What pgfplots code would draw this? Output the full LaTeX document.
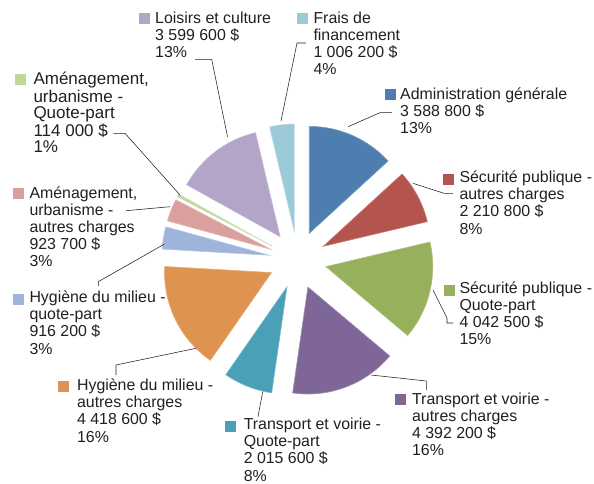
\documentclass[border=0pt]{standalone}
\usepackage{fontspec}
\setmainfont{Liberation Sans}
\usepackage{pgfplots}
\usepackage{pgfplotstable}
\pgfplotsset{compat=1.18}

\definecolor{slice0}{HTML}{4E7EB0}
\definecolor{slice1}{HTML}{B4544F}
\definecolor{slice2}{HTML}{97B05B}
\definecolor{slice3}{HTML}{7E6699}
\definecolor{slice4}{HTML}{4AA1B7}
\definecolor{slice5}{HTML}{DE9350}
\definecolor{slice6}{HTML}{9EB4DB}
\definecolor{slice7}{HTML}{D9A09E}
\definecolor{slice8}{HTML}{C0D69C}
\definecolor{slice9}{HTML}{B3A5C7}
\definecolor{slice10}{HTML}{9DCAD8}
\definecolor{textc}{HTML}{231F20}

\newcommand\lblfont{\fontsize{15.9}{17.1}\selectfont}
\newcommand\bigfont{\fontsize{17}{17}\selectfont}

% values of the slices, clockwise from 12 o'clock
\pgfplotstableread{
value
3588800
2210800
4042500
4392200
2015600
4418600
916200
923700
114000
3599600
1006200
}\piedata

\begin{document}
\begin{tikzpicture}
% total and angles
\gdef\total{0}
\foreach \i in {0,...,10}{%
  \pgfplotstablegetelem{\i}{value}\of\piedata
  \xdef\total{\fpeval{\total+\pgfplotsretval}}%
}
\gdef\cum{0}
\foreach \i in {0,...,10}{%
  \pgfplotstablegetelem{\i}{value}\of\piedata
  \edef\v{\pgfplotsretval}%
  \expandafter\xdef\csname pA\i\endcsname{\fpeval{90-360*\cum/\total}}%
  \xdef\cum{\fpeval{\cum+\v}}%
  \expandafter\xdef\csname pB\i\endcsname{\fpeval{90-360*\cum/\total}}%
  \expandafter\xdef\csname pM\i\endcsname{\fpeval{(\csname pA\i\endcsname+\csname pB\i\endcsname)/2}}%
}
\begin{axis}[
  x=1pt, y=1pt,
  xmin=0, xmax=594, ymin=-484, ymax=0,
  hide axis, clip=false,
  anchor=origin, at={(0,0)},
]
\coordinate (BL) at (axis cs:0,-484);
\coordinate (TR) at (axis cs:594,0);

\pgfplotsinvokeforeach{0,...,10}{
  \fill[slice#1, draw=slice#1!75!white, line width=0.6pt]
    (axis cs:{297.6+29*cos(\csname pM#1\endcsname)},{-259.9+29*sin(\csname pM#1\endcsname)})
    -- ++(\csname pA#1\endcsname:107pt)
    arc[start angle=\csname pA#1\endcsname, end angle=\csname pB#1\endcsname, radius=107pt]
    -- cycle;
}

% leader lines
\addplot[textc, line width=0.55pt, no markers] coordinates {(195,-59.3) (211.7,-59.3) (227.5,-136.7)};
\addplot[textc, line width=0.55pt, no markers] coordinates {(306,-43) (297,-43) (281,-121)};
\addplot[textc, line width=0.55pt, no markers] coordinates {(392,-112.7) (380,-112.7) (348,-126.7)};
\addplot[textc, line width=0.55pt, no markers] coordinates {(453,-193.3) (444,-193.3) (413,-183.3)};
\addplot[textc, line width=0.55pt, no markers] coordinates {(433,-290) (447,-318) (447,-323) (453,-323)};
\addplot[textc, line width=0.55pt, no markers] coordinates {(426.3,-390) (426.3,-381) (371,-375)};
\addplot[textc, line width=0.55pt, no markers] coordinates {(258,-416.7) (262.7,-391.7)};
\addplot[textc, line width=0.55pt, no markers] coordinates {(116,-375) (116,-365) (196,-348.3)};
\addplot[textc, line width=0.55pt, no markers] coordinates {(98.3,-286) (98.3,-281.7) (164,-244.3)};
\addplot[textc, line width=0.55pt, no markers] coordinates {(126,-210.7) (170,-206.7)};
\addplot[textc, line width=0.55pt, no markers] coordinates {(113.3,-133.3) (125,-133.3) (180,-195)};

% legend squares
\fill[slice9]  (axis cs:138.5,-12.7) rectangle ++(11pt,-11pt);
\fill[slice10] (axis cs:297,-12.7) rectangle ++(11pt,-11pt);
\fill[slice0]  (axis cs:385,-89) rectangle ++(11pt,-11pt);
\fill[slice1]  (axis cs:443.3,-174) rectangle ++(11pt,-11pt);
\fill[slice2]  (axis cs:443.5,-285) rectangle ++(11pt,-11pt);
\fill[slice3]  (axis cs:394.5,-394) rectangle ++(11pt,-11pt);
\fill[slice4]  (axis cs:225.4,-420.5) rectangle ++(11pt,-11pt);
\fill[slice5]  (axis cs:58,-381) rectangle ++(11pt,-11pt);
\fill[slice6]  (axis cs:13.3,-294) rectangle ++(11pt,-11pt);
\fill[slice7]  (axis cs:13.3,-188.3) rectangle ++(11pt,-11pt);
\fill[slice8]  (axis cs:15,-74.5) rectangle ++(11pt,-11pt);

% labels (anchor = baseline of the last line)
\tikzset{lbl/.style={anchor=base west, align=left, font=\lblfont, text=textc, inner sep=0pt}}
\node[lbl] at (axis cs:155,-57.7) {Loisirs et culture\\3 599 600 \$\\13\%};
\node[lbl] at (axis cs:313.3,-74.8) {Frais de\\financement\\1 006 200 \$\\4\%};
\node[lbl] at (axis cs:400,-133.5) {Administration générale\\3 588 800 \$\\13\%};
\node[lbl] at (axis cs:459.3,-234) {Sécurité publique -\\autres charges\\2 210 800 \$\\8\%};
\node[lbl] at (axis cs:459.3,-344.6) {Sécurité publique -\\Quote-part\\4 042 500 \$\\15\%};
\node[lbl] at (axis cs:411.9,-455.3) {Transport et voirie -\\autres charges\\4 392 200 \$\\16\%};
\node[lbl] at (axis cs:243.6,-481) {Transport et voirie -\\Quote-part\\2 015 600 \$\\8\%};
\node[lbl] at (axis cs:76.9,-442) {Hygiène du milieu -\\autres charges\\4 418 600 \$\\16\%};
\node[lbl] at (axis cs:29.3,-354) {Hygiène du milieu -\\quote-part\\916 200 \$\\3\%};
\node[lbl] at (axis cs:29.3,-266.7) {Aménagement,\\urbanisme -\\autres charges\\923 700 \$\\3\%};
\node[lbl, font=\bigfont] at (axis cs:33.3,-153) {Aménagement,\\urbanisme -\\Quote-part\\114 000 \$\\1\%};
\end{axis}
\pgfresetboundingbox
\path (BL) rectangle (TR);
\end{tikzpicture}
\end{document}
